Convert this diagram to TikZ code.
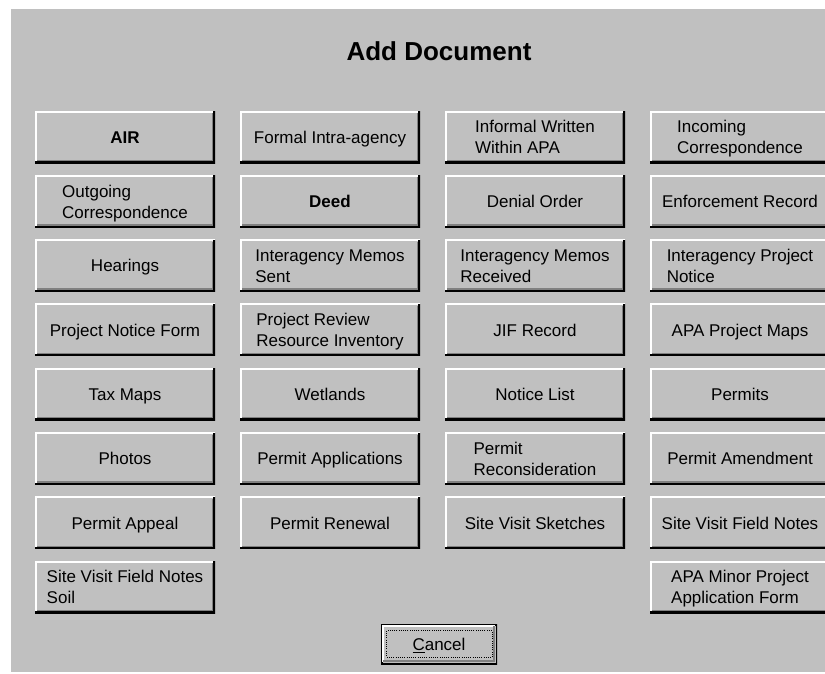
\documentclass[tikz,border=0pt]{standalone}
\usepackage{fontspec}
\setmainfont{Liberation Sans}
\usepackage{array}
\definecolor{face}{HTML}{C0C0C0}
\definecolor{btnshadow}{HTML}{808080}
\newcommand{\twolines}[2]{\begin{tabular}[b]{@{}l@{}}#1\\#2\end{tabular}}
\tikzset{
  bevel/.style={
    path picture={
      \draw[white, line width=3pt]
        (path picture bounding box.south west) -- (path picture bounding box.north west)
        -- (path picture bounding box.north east);
      \draw[black, line width=3.5pt]
        (path picture bounding box.south west) -- (path picture bounding box.south east)
        -- (path picture bounding box.north east);
      \draw[btnshadow, line width=1.5pt]
        ([shift={(2pt,2.5pt)}]path picture bounding box.south west)
        -- ([shift={(-2.5pt,2.5pt)}]path picture bounding box.south east)
        -- ([shift={(-2.5pt,-2pt)}]path picture bounding box.north east);
    }},
  btn/.style={bevel, fill=face, minimum width=180pt, minimum height=52pt, inner sep=0pt,
    font=\fontsize{17}{21}\selectfont, text height=12.5pt, text depth=0pt},
  two/.style={text height=33.5pt},
  defbtn/.style={fill=face, minimum width=116pt, minimum height=40pt, inner sep=0pt,
    font=\fontsize{17}{21}\selectfont, text height=12.5pt, text depth=0pt,
    path picture={
      \draw[black, line width=3pt]
        (path picture bounding box.south west) rectangle (path picture bounding box.north east);
      \draw[white, line width=1.5pt]
        ([shift={(2.2pt,2.2pt)}]path picture bounding box.south west)
        -- ([shift={(2.2pt,-2.2pt)}]path picture bounding box.north west)
        -- ([shift={(-2.2pt,-2.2pt)}]path picture bounding box.north east);
      \draw[btnshadow, line width=1.5pt]
        ([shift={(2.2pt,3pt)}]path picture bounding box.south west)
        -- ([shift={(-3pt,3pt)}]path picture bounding box.south east)
        -- ([shift={(-3pt,-2.2pt)}]path picture bounding box.north east);
    }},
  focusrect/.style={draw=black, line width=0.9pt, dash pattern=on 1pt off 1.2pt}
}
\begin{document}
\begin{tikzpicture}[x=1pt, y=-1pt]
  % canvas and dialog face
  \clip (0,0) rectangle (825,673);
  \fill[white] (0,0) rectangle (825,673);
  \fill[face] (11,9) rectangle (830,672);

  \node[font=\bfseries\fontsize{26}{30}\selectfont, anchor=base] (title) at (439,60) {Add Document};

  % row 1
  \node[btn, font=\bfseries\fontsize{17}{21}\selectfont] (air) at (125,137) {AIR};
  \node[btn] (formal) at (330,137) {Formal Intra-agency};
  \node[btn, two] (informal) at (535,137) {\twolines{Informal Written}{Within APA}};
  \node[btn, two] (incoming) at (740,137) {\twolines{Incoming}{Correspondence}};
  % row 2
  \node[btn, two] (outgoing) at (125,201.3) {\twolines{Outgoing}{Correspondence}};
  \node[btn, font=\bfseries\fontsize{17}{21}\selectfont] (deed) at (330,201.3) {Deed};
  \node[btn] (denial) at (535,201.3) {Denial Order};
  \node[btn] (enforce) at (740,201.3) {Enforcement Record};
  % row 3
  \node[btn] (hearings) at (125,265.6) {Hearings};
  \node[btn, two] (memosent) at (330,265.6) {\twolines{Interagency Memos}{Sent}};
  \node[btn, two] (memorec) at (535,265.6) {\twolines{Interagency Memos}{Received}};
  \node[btn, two] (projnotice) at (740,265.6) {\twolines{Interagency Project}{Notice}};
  % row 4
  \node[btn] (pnform) at (125,329.9) {Project Notice Form};
  \node[btn, two] (review) at (330,329.9) {\twolines{Project Review}{Resource Inventory}};
  \node[btn] (jif) at (535,329.9) {JIF Record};
  \node[btn] (maps) at (740,329.9) {APA Project Maps};
  % row 5
  \node[btn] (tax) at (125,394.2) {Tax Maps};
  \node[btn] (wetlands) at (330,394.2) {Wetlands};
  \node[btn] (notice) at (535,394.2) {Notice List};
  \node[btn] (permits) at (740,394.2) {Permits};
  % row 6
  \node[btn] (photos) at (125,458.5) {Photos};
  \node[btn] (papps) at (330,458.5) {Permit Applications};
  \node[btn, two] (recons) at (535,458.5) {\twolines{Permit}{Reconsideration}};
  \node[btn] (amend) at (740,458.5) {Permit Amendment};
  % row 7
  \node[btn] (appeal) at (125,522.8) {Permit Appeal};
  \node[btn] (renewal) at (330,522.8) {Permit Renewal};
  \node[btn] (sketches) at (535,522.8) {Site Visit Sketches};
  \node[btn] (fieldnotes) at (740,522.8) {Site Visit Field Notes};
  % row 8
  \node[btn, two] (soil) at (125,587.1) {\twolines{Site Visit Field Notes}{Soil}};
  \node[btn, two] (minor) at (740,587.1) {\twolines{APA Minor Project}{Application Form}};

  % default push button
  \node[defbtn] (cancel) at (439,644) {\underline{C}ancel};
  \draw[focusrect] ([shift={(6pt,-7pt)}]cancel.north west) rectangle ([shift={(-5pt,7pt)}]cancel.south east);
\end{tikzpicture}
\end{document}
